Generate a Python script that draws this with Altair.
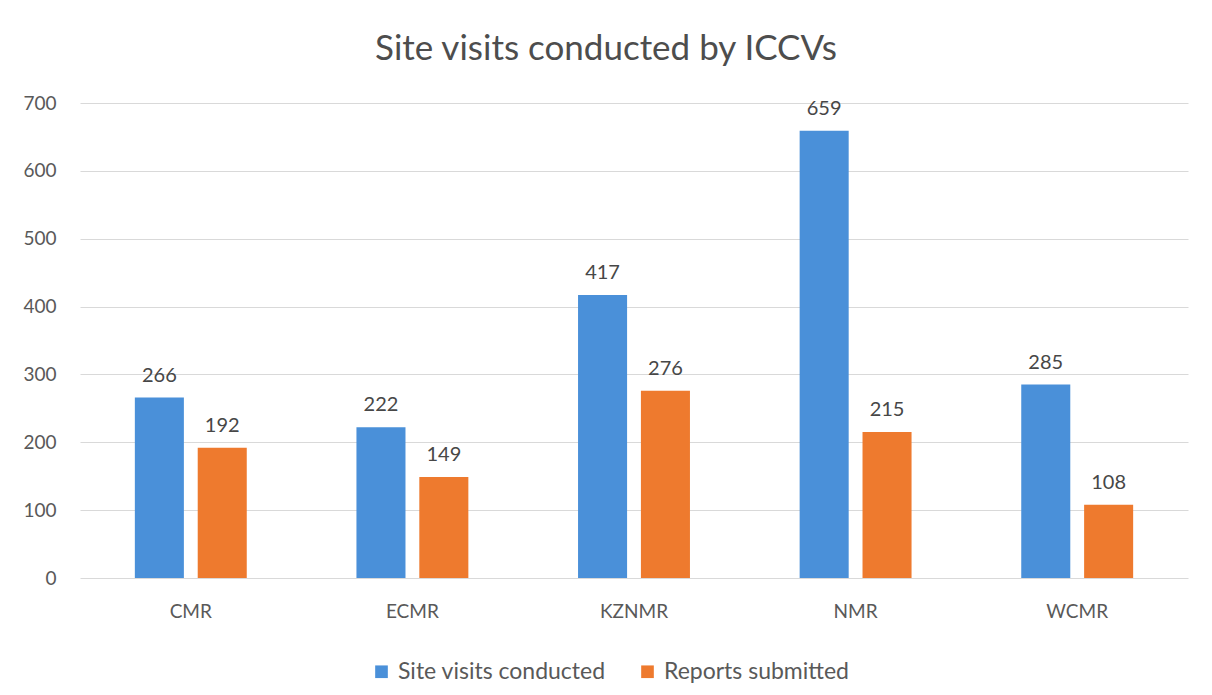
import altair as alt
import pandas as pd

regions = ["CMR", "ECMR", "KZNMR", "NMR", "WCMR"]
series_names = ["Site visits conducted", "Reports submitted"]
site_visits = [266, 222, 417, 659, 285]
reports = [192, 149, 276, 215, 108]
y_ticks = [0, 100, 200, 300, 400, 500, 600, 700]

rows = []
for r, a, b in zip(regions, site_visits, reports):
    rows.append({"region": r, "series": series_names[0], "value": a})
    rows.append({"region": r, "series": series_names[1], "value": b})
df = pd.DataFrame(rows)

FONT = "Lato"
colors = ["#4A90D9", "#EE7A2E"]

x = alt.X("region:N", sort=regions, title=None,
          scale=alt.Scale(paddingInner=0.495, paddingOuter=0.2475),
          axis=alt.Axis(labelAngle=0, labelFontSize=19, labelColor="#595959",
                        labelFont=FONT, ticks=False, domain=False, labelPadding=24))
xoff = alt.XOffset("series:N", sort=series_names,
                   scale=alt.Scale(paddingInner=0.22, paddingOuter=0))
y = alt.Y("value:Q", title=None,
          scale=alt.Scale(domain=[0, 700]),
          axis=alt.Axis(values=y_ticks, labelFontSize=19, labelColor="#595959",
                        labelFont=FONT, ticks=False, domain=False, labelPadding=24,
                        gridColor="#D9D9D9", gridWidth=1))

base = alt.Chart(df).encode(x=x, xOffset=xoff, y=y)

bars = base.mark_bar().encode(
    color=alt.Color("series:N", sort=series_names,
                    scale=alt.Scale(domain=series_names, range=colors),
                    legend=alt.Legend(title=None, orient="none", direction="horizontal",
                                      legendX=290, legendY=557,
                                      symbolType="square", symbolSize=160,
                                      labelFontSize=23, labelColor="#595959",
                                      labelFont=FONT, columnPadding=30,
                                      symbolOffset=0, labelOffset=5, labelLimit=0))
)

labels = base.mark_text(baseline="alphabetic", dy=-16, fontSize=20,
                        color="#474747", font=FONT).encode(text="value:Q")

chart = (bars + labels).properties(
    width=1108, height=475,
    background="white",
    title=alt.TitleParams("Site visits conducted by ICCVs", fontSize=35,
                          font=FONT, fontWeight="normal", color="#4D4D4D",
                          anchor="middle", offset=27, dx=-28),
    autosize=alt.AutoSizeParams(type="none"),
    padding={"left": 72, "top": 95, "right": 16, "bottom": 109},
).configure_view(strokeWidth=0)

chart.save("out.html", embed_options={"renderer": "svg", "actions": False})
